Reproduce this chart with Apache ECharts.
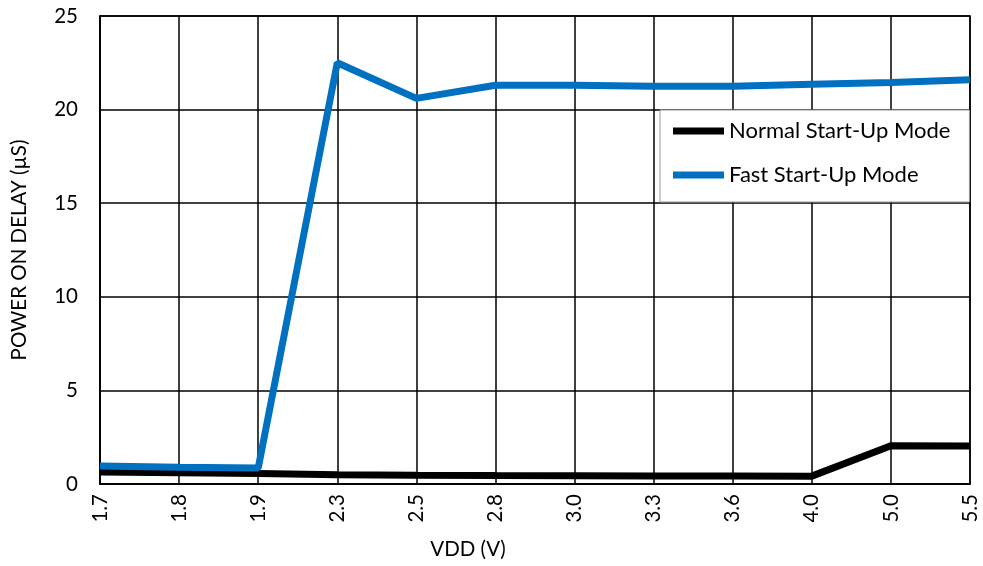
<!DOCTYPE html>
<html>
<head>
<meta charset="utf-8">
<script src="https://cdn.jsdelivr.net/npm/echarts@6/dist/echarts.min.js"></script>
<style>
html,body{margin:0;padding:0;background:#fff;}
#chart{width:983px;height:566px;}
</style>
</head>
<body>
<div id="chart"></div>
<script>
var categories = ['1.7','1.8','1.9','2.3','2.5','2.8','3.0','3.3','3.6','4.0','5.0','5.5'];
var normalMode = [0.64,0.60,0.56,0.50,0.47,0.45,0.44,0.43,0.43,0.42,2.04,2.03];
var fastMode = [0.96,0.90,0.85,22.5,20.6,21.3,21.3,21.25,21.25,21.35,21.45,21.6];
var yTicks = {min:0, max:25, interval:5};

var font = 'Lato, "Open Sans", sans-serif';
var chart = echarts.init(document.getElementById('chart'));
chart.setOption({
  animation:false,
  backgroundColor:'#fff',
  grid:{left:100,right:13,top:16,bottom:82,outerBoundsMode:'none',containLabel:false,show:true,borderColor:'#000',borderWidth:1.5,backgroundColor:'transparent'},
  legend:{
    orient:'vertical',left:660,top:110,
    backgroundColor:'#fff',borderColor:'#999',borderWidth:1,borderRadius:0,
    padding:[10,19,16,13],itemWidth:51,itemHeight:7,itemGap:22,
    icon:'rect',
    textStyle:{fontFamily:font,fontSize:22,lineHeight:22,color:'#000'},
    data:[{name:'Normal Start-Up Mode',itemStyle:{color:'#000'}},{name:'Fast Start-Up Mode',itemStyle:{color:'#0070C0'}}]
  },
  xAxis:{
    type:'category',data:categories,boundaryGap:false,
    name:'VDD (V)',nameLocation:'middle',nameGap:55,
    nameTextStyle:{fontFamily:font,fontSize:20.5,color:'#000',padding:[0,134,0,0]},
    axisLine:{lineStyle:{color:'#000',width:1.5}},
    axisTick:{show:false},
    axisLabel:{rotate:90,fontFamily:font,fontSize:20.5,color:'#000',margin:10,interval:0},
    splitLine:{show:true,lineStyle:{color:'#000',width:1.5}}
  },
  yAxis:{
    type:'value',min:yTicks.min,max:yTicks.max,interval:yTicks.interval,
    name:'POWER ON DELAY (\u00b5S)',nameLocation:'middle',nameGap:70,
    nameTextStyle:{fontFamily:font,fontSize:20.5,color:'#000'},
    axisLine:{show:true,lineStyle:{color:'#000',width:1.5}},
    axisTick:{show:false},
    axisLabel:{fontFamily:font,fontSize:20.5,color:'#000',margin:22},
    splitLine:{show:true,lineStyle:{color:'#000',width:1.5}}
  },
  series:[
    {name:'Normal Start-Up Mode',type:'line',data:normalMode,symbol:'none',lineStyle:{color:'#000',width:7},itemStyle:{color:'#000'},z:3},
    {name:'Fast Start-Up Mode',type:'line',data:fastMode,symbol:'none',lineStyle:{color:'#0070C0',width:7},itemStyle:{color:'#0070C0'},z:4}
  ]
});
</script>
</body>
</html>
